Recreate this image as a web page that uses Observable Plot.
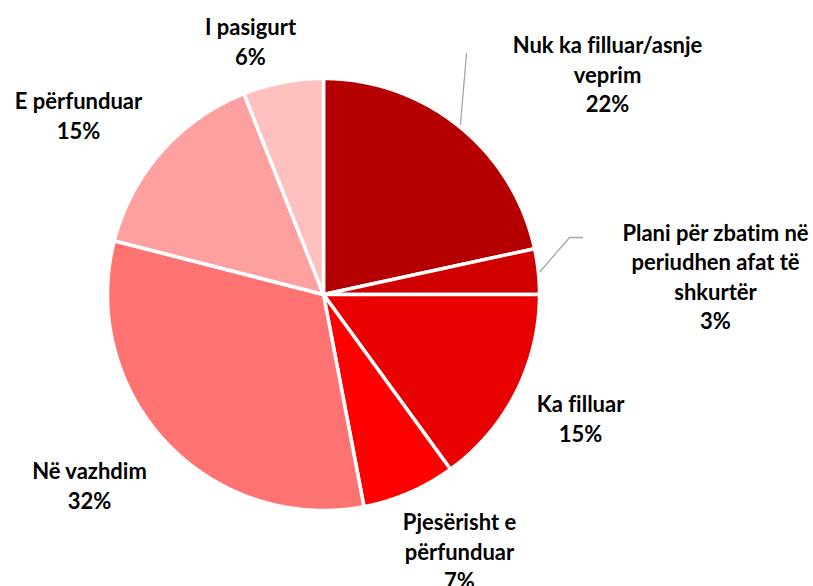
<!DOCTYPE html>
<html>
<head>
<meta charset="utf-8">
<script src="https://cdn.jsdelivr.net/npm/d3@7"></script>
<script src="https://cdn.jsdelivr.net/npm/@observablehq/plot@0.6"></script>
<style>
  html, body { margin: 0; padding: 0; background: #fff; }
  #chart svg { display: block; }
  #chart svg text { font-variant-ligatures: none; font-feature-settings: "liga" 0, "clig" 0; }
</style>
</head>
<body>
<div id="chart"></div>
<script>
// ---- data ----
const categories = [
  "Nuk ka filluar/asnje\nveprim",
  "Plani për zbatim në\nperiudhen afat të\nshkurtër",
  "Ka filluar",
  "Pjesërisht e\npërfunduar",
  "Në vazhdim",
  "E përfunduar",
  "I pasigurt"
];
const values = [21.6, 3.4, 15, 7, 32, 15, 6];
const percentLabels = ["22%", "3%", "15%", "7%", "32%", "15%", "6%"];
const colors = ["#B40000", "#D00000", "#E80000", "#FF0000", "#FF7373", "#FFA0A0", "#FFC0C0"];

// ---- layout ----
const W = 813, H = 586;
const CX = 323, CY = 294, R = 216;
const FONT = "Lato, 'Noto Sans', sans-serif";
// label block centers (pixels)
const labelCenters = [[607, 73], [715, 275], [580, 417], [459, 550], [89, 484], [78, 114], [250, 40]];
// leader line extra points (pixels)
const leaderPts = {0: [[466, 53]], 1: [[569, 237], [582, 237]]};

const px2x = (px) => (px - CX) / R;
const py2y = (py) => (CY - py) / R;

// build slices
const total = d3.sum(values);
const slices = [];
const mids = [];
let acc = 0;
values.forEach((v, i) => {
  const a0 = acc / total * 2 * Math.PI;
  acc += v;
  const a1 = acc / total * 2 * Math.PI;
  mids.push((a0 + a1) / 2);
  const n = Math.max(2, Math.ceil((a1 - a0) / (Math.PI / 360)));
  slices.push({key: i, cat: categories[i], x: 0, y: 0});
  for (let k = 0; k <= n; k++) {
    const a = a0 + (a1 - a0) * k / n;
    slices.push({key: i, cat: categories[i], x: Math.sin(a), y: Math.cos(a)});
  }
  slices.push({key: i, cat: categories[i], x: 0, y: 0});
});

const labels = categories.map((c, i) => ({
  text: c + "\n" + percentLabels[i],
  x: px2x(labelCenters[i][0]),
  y: py2y(labelCenters[i][1])
}));

const leaders = [];
Object.entries(leaderPts).forEach(([i, pts]) => {
  const m = mids[+i];
  leaders.push({key: +i, x: Math.sin(m) * 1.01, y: Math.cos(m) * 1.01});
  pts.forEach(p => leaders.push({key: +i, x: px2x(p[0]), y: py2y(p[1])}));
});

const chart = Plot.plot({
  width: W,
  height: H,
  margin: 0,
  x: {domain: [px2x(0), px2x(W)], axis: null},
  y: {domain: [py2y(H), py2y(0)], axis: null},
  color: {domain: categories, range: colors},
  style: {fontFamily: FONT},
  marks: [
    Plot.line(slices, {
      x: "x", y: "y", z: "key", fill: "cat",
      stroke: "white", strokeWidth: 3.5, strokeLinejoin: "round", curve: "linear"
    }),
    Plot.line(leaders, {x: "x", y: "y", z: "key", stroke: "#A6A6A6", strokeWidth: 1.3}),
    Plot.text(labels, {
      x: "x", y: "y", text: "text",
      fontSize: 22, fontWeight: "bold", fill: "#000",
      textAnchor: "middle", lineAnchor: "middle", lineHeight: 1.34,
      fontFamily: FONT
    })
  ]
});
document.getElementById("chart").appendChild(chart);
</script>
</body>
</html>
